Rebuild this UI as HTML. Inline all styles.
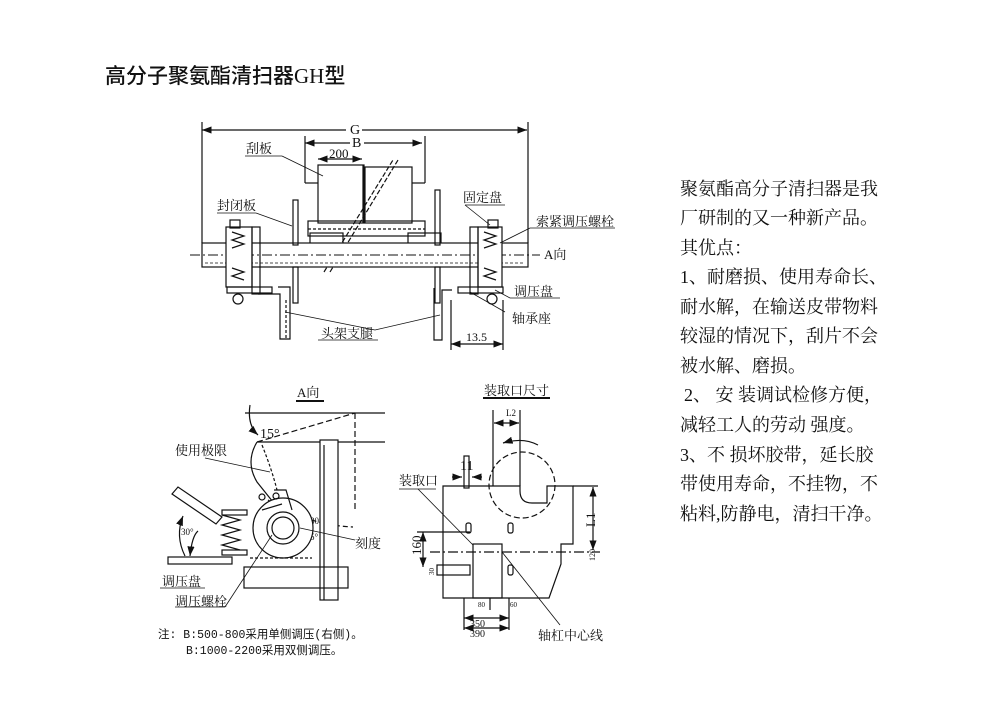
<!DOCTYPE html>
<html><head><meta charset="utf-8"><style>
body{margin:0;background:#fff;width:992px;height:709px;overflow:hidden;position:relative}
.t{position:absolute;font-family:"Liberation Serif","Noto Serif CJK SC",serif;font-size:18px;color:#111;white-space:pre;line-height:18px}
svg{position:absolute;left:0;top:0}
svg text{font-family:"Liberation Serif","Noto Serif CJK SC",serif;fill:#111}
</style></head><body>
<div style="position:absolute;left:105px;top:60px;font-family:'Liberation Sans','Noto Sans CJK SC',sans-serif;font-size:21px;color:#111;white-space:pre;font-weight:500">高分子聚氨酯清扫器<span style="font-family:'Liberation Serif',serif">GH</span>型</div>
<div class="t" style="left:680px;top:180px">聚氨酯高分子清扫器是我</div>
<div class="t" style="left:680px;top:209px">厂研制的又一种新产品。</div>
<div class="t" style="left:680px;top:239px">其优点：</div>
<div class="t" style="left:680px;top:268px">1、耐磨损、使用寿命长、</div>
<div class="t" style="left:680px;top:298px">耐水解，在输送皮带物料</div>
<div class="t" style="left:680px;top:327px">较湿的情况下，刮片不会</div>
<div class="t" style="left:680px;top:357px">被水解、磨损。</div>
<div class="t" style="left:684px;top:386px">2、 安 装调试检修方便，</div>
<div class="t" style="left:680px;top:416px">减轻工人的劳动 强度。</div>
<div class="t" style="left:680px;top:446px">3、不 损坏胶带，延长胶</div>
<div class="t" style="left:680px;top:475px">带使用寿命，不挂物，不</div>
<div class="t" style="left:680px;top:505px">粘料,防静电，清扫干净。</div>

<svg width="992" height="709" viewBox="0 0 992 709" fill="none" stroke="#111" stroke-width="1.2">
<defs><marker id="a" markerWidth="8" markerHeight="6" refX="8" refY="3" orient="auto-start-reverse"><path d="M0,0L8,3L0,6z" fill="#111" stroke="none"/></marker></defs>
<!-- TOP VIEW -->
<line x1="202" y1="130" x2="527" y2="130" marker-start="url(#a)" marker-end="url(#a)"/>
<line x1="202" y1="122" x2="202" y2="243"/><line x1="528" y1="122" x2="528" y2="243"/>
<line x1="305" y1="143" x2="422" y2="143" marker-start="url(#a)" marker-end="url(#a)"/>
<line x1="305" y1="136" x2="305" y2="183"/><line x1="425" y1="136" x2="425" y2="183"/>
<line x1="305" y1="183" x2="318" y2="183"/><line x1="412" y1="183" x2="425" y2="183"/>
<line x1="318" y1="159" x2="362" y2="159" marker-start="url(#a)" marker-end="url(#a)"/>
<rect x="318" y="165" width="46" height="58"/><rect x="365" y="167" width="47" height="56"/>
<line x1="363" y1="165" x2="363" y2="223"/>
<rect x="308" y="221" width="117" height="15"/>
<line x1="308" y1="229" x2="425" y2="229" stroke-dasharray="3,2"/>
<rect x="310" y="233" width="33" height="14"/><rect x="408" y="233" width="33" height="14"/>
<line x1="324" y1="272" x2="393" y2="160" stroke-dasharray="5,2"/><line x1="330" y1="272" x2="398" y2="160" stroke-dasharray="5,2"/>
<rect x="202" y="243" width="326" height="24" fill="#fff"/>
<line x1="190" y1="255" x2="540" y2="255" stroke-dasharray="10,3,2,3" stroke-width="0.9"/>
<line x1="205" y1="263" x2="525" y2="263" stroke-dasharray="3,2" stroke-width="0.8"/>
<rect x="226" y="227" width="26" height="60" fill="#fff"/>
<rect x="478" y="227" width="24" height="60" fill="#fff"/>
<path d="M232 232l12 4-12 4 12 4-12 4M232 268l12 4-12 4 12 4M484 232l12 4-12 4 12 4-12 4M484 268l12 4-12 4 12 4"/>
<rect x="230" y="220" width="10" height="8"/><rect x="488" y="220" width="10" height="8"/>
<rect x="252" y="227" width="8" height="67"/><rect x="470" y="227" width="8" height="67"/>
<rect x="227" y="287" width="45" height="6"/><rect x="458" y="287" width="45" height="6"/>
<circle cx="238" cy="299" r="5"/><circle cx="492" cy="299" r="5"/>
<rect x="293" y="200" width="5" height="45"/><rect x="293" y="267" width="5" height="36"/>
<rect x="435" y="190" width="5" height="55"/><rect x="435" y="267" width="5" height="36"/>
<path d="M258 294h22v45h10v-52h-12"/><path d="M452 290h-10v50h-8v-52"/>
<line x1="286" y1="300" x2="286" y2="340" stroke-dasharray="3,2"/>
<line x1="451" y1="344" x2="503" y2="344" marker-start="url(#a)" marker-end="url(#a)"/>
<line x1="451" y1="300" x2="451" y2="350"/><line x1="503" y1="300" x2="503" y2="350"/>
<g stroke-width="0.8">
<line x1="245" y1="156" x2="282" y2="156"/><line x1="282" y1="156" x2="323" y2="176"/>
<line x1="217" y1="213" x2="256" y2="213"/><line x1="256" y1="213" x2="292" y2="226"/>
<line x1="465" y1="205" x2="505" y2="205"/><line x1="465" y1="205" x2="490" y2="225"/>
<line x1="530" y1="228" x2="615" y2="228"/><line x1="530" y1="228" x2="500" y2="243"/>
<line x1="510" y1="298" x2="560" y2="298"/><line x1="510" y1="298" x2="495" y2="290"/>
<line x1="505" y1="312" x2="470" y2="292"/>
<line x1="375" y1="330" x2="285" y2="312"/><line x1="375" y1="330" x2="440" y2="315"/>
<line x1="318" y1="340" x2="378" y2="340"/>
</g>
<rect x="346" y="124" width="16" height="12" fill="#fff" stroke="none"/>
<rect x="350" y="137" width="14" height="12" fill="#fff" stroke="none"/>
<g stroke="none" font-size="13">
<text x="350" y="134" font-size="14">G</text><text x="352" y="147" font-size="14">B</text>
<text x="329" y="158" font-size="13">200</text>
<text x="246" y="153">刮板</text><text x="217" y="210">封闭板</text><text x="463" y="202">固定盘</text>
<text x="536" y="226">索紧调压螺栓</text><text x="544" y="259">A向</text>
<text x="514" y="296">调压盘</text><text x="512" y="323">轴承座</text>
<text x="321" y="338">头架支腿</text><text x="466" y="341" font-size="12">13.5</text>
</g>
<!-- A VIEW -->
<g stroke="none" font-size="13">
<text x="297" y="397">A向</text><text x="484" y="395">装取口尺寸</text>
<text x="175" y="455">使用极限</text><text x="355" y="548">刻度</text>
<text x="162" y="586">调压盘</text><text x="175" y="606">调压螺栓</text>
<text x="260" y="438" font-size="14">15°</text>
<text x="181" y="535" font-size="9">30°</text><text x="310" y="524" font-size="9">30°</text><text x="310" y="540" font-size="9">5°</text>
<text x="399" y="485">装取口</text><text x="460" y="470" font-size="14">11</text>
<text x="506" y="416" font-size="9">L2</text>
<text x="538" y="640">轴杠中心线</text>
<text x="470" y="627" font-size="10">350</text><text x="470" y="637" font-size="10">390</text>
<text x="478" y="607" font-size="7">80</text><text x="510" y="607" font-size="7">60</text>
<text font-size="13" transform="translate(421,555) rotate(-90)">160</text>
<text font-size="13" transform="translate(595,527) rotate(-90)">L1</text>
<text font-size="8" transform="translate(595,561) rotate(-90)">120</text>
<text font-size="7" transform="translate(434,575) rotate(-90)">30</text>
<text x="158" y="638" style="font-family:'Liberation Mono','Noto Sans CJK SC',monospace;font-size:11.5px">注:  B:500-800采用单侧调压(右侧)。</text>
<text x="186" y="654" style="font-family:'Liberation Mono','Noto Sans CJK SC',monospace;font-size:11.5px">B:1000-2200采用双侧调压。</text>
</g>
<line x1="296" y1="401" x2="324" y2="401" stroke-width="2"/><line x1="483" y1="398" x2="550" y2="398" stroke-width="2"/>
<line x1="245" y1="413" x2="385" y2="413"/>
<line x1="257" y1="442" x2="355" y2="413" stroke-dasharray="6,3"/>
<line x1="355" y1="413" x2="355" y2="512" stroke-dasharray="6,3"/>
<line x1="257" y1="442" x2="385" y2="442"/>
<path d="M250 405q-3 20 8 30" marker-end="url(#a)"/>
<path d="M257 442q-12 20 0 40l20 25" />
<path d="M262 445q10 25 15 45" stroke-dasharray="3,2"/>
<path d="M268 500q40 25 85 27" stroke-dasharray="5,3"/>
<rect x="320" y="440" width="18" height="160" fill="#fff"/><line x1="324" y1="445" x2="324" y2="600"/>
<circle cx="283" cy="528" r="30" fill="#fff"/><circle cx="283" cy="528" r="16"/><circle cx="283" cy="528" r="11"/>
<path d="M262 510l20-6M274 490l12 0 6 20"/><circle cx="262" cy="497" r="3"/><circle cx="276" cy="496" r="3"/>
<path d="M222 515l18 5-18 5 18 5-18 5 18 5-18 5 18 5"/>
<rect x="222" y="510" width="25" height="5"/><rect x="222" y="550" width="25" height="5"/>
<path d="M172 494l6-7 44 30-6 7z"/>
<rect x="168" y="557" width="64" height="7"/>
<path d="M185 556q-10-20-2-40" marker-end="url(#a)"/><path d="M190 556q2-20 8-25" marker-start="url(#a)"/>
<rect x="244" y="567" width="104" height="21"/>
<line x1="250" y1="558" x2="312" y2="558" stroke-dasharray="3,2"/>
<line x1="160" y1="588" x2="205" y2="588" stroke-width="0.8"/><line x1="175" y1="607" x2="225" y2="607" stroke-width="0.8"/>
<line x1="225" y1="607" x2="272" y2="535" stroke-width="0.8"/>
<line x1="300" y1="528" x2="355" y2="540" stroke-width="0.8"/>
<line x1="205" y1="458" x2="270" y2="472" stroke-width="0.8"/>
<!-- RIGHT VIEW -->
<line x1="493" y1="410" x2="493" y2="486"/><line x1="520" y1="410" x2="520" y2="486"/>
<line x1="494" y1="423" x2="519" y2="423" marker-start="url(#a)" marker-end="url(#a)"/>
<path d="M538 445q-15-8-35-2" marker-end="url(#a)"/>
<circle cx="522" cy="485" r="33" stroke-dasharray="6,3"/>
<path d="M443 486h77v5q0 12 12 12h15v-17h26v58h-12v20l-12 34h-106z" fill="none"/>
<rect x="473" y="544" width="29" height="54"/>
<line x1="430" y1="552" x2="600" y2="552" stroke-dasharray="10,3,2,3"/>
<rect x="464" y="456" width="5" height="32"/>
<rect x="466" y="523" width="5" height="10" rx="2"/><rect x="508" y="523" width="5" height="10" rx="2"/><rect x="508" y="565" width="5" height="10" rx="2"/>
<rect x="437" y="565" width="33" height="10"/>
<line x1="593" y1="487" x2="593" y2="550" marker-start="url(#a)" marker-end="url(#a)"/>
<line x1="573" y1="486" x2="598" y2="486"/>
<line x1="423" y1="532" x2="423" y2="567" marker-start="url(#a)" marker-end="url(#a)"/>
<line x1="417" y1="532" x2="470" y2="532"/>
<line x1="452" y1="477" x2="462" y2="477" marker-end="url(#a)"/><line x1="482" y1="477" x2="472" y2="477" marker-end="url(#a)"/>
<line x1="464" y1="598" x2="464" y2="630"/><line x1="509" y1="598" x2="509" y2="630"/><line x1="490" y1="598" x2="490" y2="610"/>
<line x1="464" y1="618" x2="509" y2="618" marker-start="url(#a)" marker-end="url(#a)"/>
<line x1="464" y1="628" x2="509" y2="628" marker-start="url(#a)" marker-end="url(#a)"/>
<line x1="399" y1="489" x2="436" y2="489" stroke-width="0.8"/><line x1="418" y1="489" x2="473" y2="545" stroke-width="0.8"/>
<line x1="502" y1="552" x2="560" y2="625" stroke-width="0.8"/>
</svg>
</body></html>
